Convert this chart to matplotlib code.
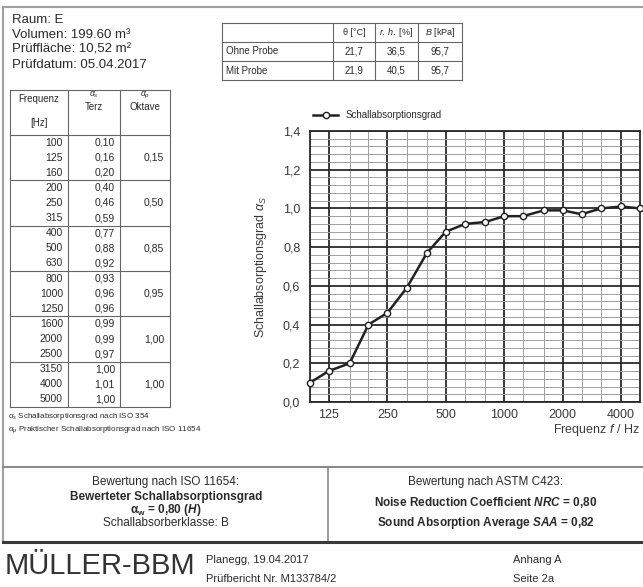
import matplotlib.pyplot as plt
from matplotlib.lines import Line2D
from matplotlib.ticker import FixedLocator, FuncFormatter

plt.rcParams['font.family'] = ['Liberation Sans', 'DejaVu Sans']
plt.rcParams['mathtext.fontset'] = 'custom'
plt.rcParams['mathtext.rm'] = 'Liberation Sans'
plt.rcParams['mathtext.it'] = 'Liberation Sans:italic'
plt.rcParams['mathtext.bf'] = 'Liberation Sans:bold'
plt.rcParams['mathtext.bfit'] = 'Liberation Sans:italic:bold'

# third-octave results (alpha_s) and practical octave values (alpha_p)
freqs = [100, 125, 160, 200, 250, 315, 400, 500, 630, 800, 1000, 1250,
         1600, 2000, 2500, 3150, 4000, 5000]
alpha_s = [0.10, 0.16, 0.20, 0.40, 0.46, 0.59, 0.77, 0.88, 0.92, 0.93, 0.96, 0.96,
           0.99, 0.99, 0.97, 1.00, 1.01, 1.00]
octaves = [125, 250, 500, 1000, 2000, 4000]
alpha_p = [0.15, 0.50, 0.85, 0.95, 1.00, 1.00]

climate_rows = ['Ohne Probe', 'Mit Probe']
climate_cols = ['θ [°C]', r'$\it{r.\,h.}$ [%]', r'$\it{B}$ [kPa]']
climate_vals = [[21.7, 36.5, 95.7], [21.9, 40.5, 95.7]]

info = ['Raum: E', 'Volumen: 199.60 m³', 'Prüffläche: 10,52 m²', 'Prüfdatum: 05.04.2017']

W, H = 643, 587
fig = plt.figure(figsize=(6.43, 5.87), dpi=100)
ink = '#2a2a2a'


def fx(x):
    return x / W


def fy(y):
    return 1 - y / H


def txt(x, y, s, **kw):
    kw.setdefault('color', ink)
    kw.setdefault('va', 'center')
    fig.text(fx(x), fy(y), s, **kw)


def line(x0, y0, x1, y1, lw=0.8, c='#666666'):
    fig.add_artist(Line2D([fx(x0), fx(x1)], [fy(y0), fy(y1)], lw=lw, color=c))


def comma(v, n=2):
    return f'{v:.{n}f}'.replace('.', ',')


# page frame
line(3, 7, 643, 7, lw=1.5, c='#a0a0a0')
line(3, 7, 3, 542, lw=1.5, c='#a0a0a0')

# header info
for i, s in enumerate(info):
    txt(12, 20 + i * 15, s, fontsize=9.5)

# climate table
cx = [222, 333, 375, 418, 462]
cy = [23, 42, 61, 80]
for y in cy:
    line(cx[0], y, cx[-1], y)
for x in cx:
    line(x, cy[0], x, cy[-1])
for j, s in enumerate(climate_cols):
    txt((cx[j + 1] + cx[j + 2]) / 2, (cy[0] + cy[1]) / 2, s, fontsize=6.5, ha='center')
for i, r in enumerate(climate_rows):
    yc = (cy[i + 1] + cy[i + 2]) / 2
    txt(cx[0] + 4, yc, r, fontsize=7)
    for j, v in enumerate(climate_vals[i]):
        txt((cx[j + 1] + cx[j + 2]) / 2, yc, comma(v, 1), fontsize=7, ha='center')

# result table
tx = [10, 68, 120, 170]
ttop, thead, tbot = 90, 135, 407
rh = (tbot - thead) / len(freqs)
for x in tx:
    line(x, ttop, x, tbot)
line(tx[0], ttop, tx[-1], ttop)
for k in range(0, len(freqs) + 1, 3):
    line(tx[0], thead + k * rh, tx[-1], thead + k * rh)
txt(39, 99, 'Frequenz', fontsize=7, ha='center')
txt(39, 123, '[Hz]', fontsize=7, ha='center')
txt(94, 95, r'$\alpha_s$', fontsize=6.3, ha='center')
txt(94, 107, 'Terz', fontsize=7, ha='center')
txt(145, 95, r'$\alpha_p$', fontsize=6.3, ha='center')
txt(145, 107, 'Oktave', fontsize=7, ha='center')
for i, (f, a) in enumerate(zip(freqs, alpha_s)):
    yc = thead + (i + 0.5) * rh
    txt(63, yc, str(f), fontsize=7.5, ha='right')
    txt(115, yc, comma(a), fontsize=7.5, ha='right')
for k, a in enumerate(alpha_p):
    txt(164, thead + (3 * k + 1.5) * rh, comma(a), fontsize=7.5, ha='right')
txt(8, 416, r'$\alpha_s$ Schallabsorptionsgrad nach ISO 354', fontsize=5.8)
txt(8, 430, r'$\alpha_p$ Praktischer Schallabsorptionsgrad nach ISO 11654', fontsize=5.8)

# chart
ax = fig.add_axes([fx(310), fy(402), (640 - 310) / W, (402 - 131) / H])
ax.set_xscale('log')
ax.set_xlim(100, 5000)
ax.set_ylim(0, 1.4)
ax.xaxis.set_major_locator(FixedLocator(octaves))
ax.xaxis.set_minor_locator(FixedLocator([f for f in freqs if f not in octaves]))
ax.xaxis.set_major_formatter(FuncFormatter(lambda v, p: f'{v:.0f}'))
ax.xaxis.set_minor_formatter(FuncFormatter(lambda v, p: ''))
ax.yaxis.set_major_locator(FixedLocator([0, 0.2, 0.4, 0.6, 0.8, 1.0, 1.2, 1.4]))
ax.yaxis.set_minor_locator(FixedLocator([i * 0.04 for i in range(36)]))
ax.yaxis.set_major_formatter(FuncFormatter(lambda v, p: comma(v, 1)))
ax.grid(which='major', color='#2a2a2a', lw=1.3)
ax.grid(which='minor', color='#a0a0a0', lw=0.7)
ax.set_axisbelow(True)
ax.tick_params(which='both', length=0, labelsize=9, labelcolor='#3a3a3a')
ax.tick_params(axis='x', pad=5)
ax.tick_params(axis='y', pad=7)
for sp in ax.spines.values():
    sp.set_color('#2a2a2a')
    sp.set_linewidth(1.3)
ax.plot(freqs, alpha_s, color='#222222', lw=1.8, marker='o', ms=4.5,
        mfc='white', mec='#222222', mew=1, clip_on=False, zorder=5,
        label='Schallabsorptionsgrad')
ax.set_ylabel(r'Schallabsorptionsgrad $\alpha_S$', fontsize=9, color='#3a3a3a')
ax.yaxis.set_label_coords(-0.125, 0.5)
ax.legend(loc='center left', bbox_to_anchor=(fx(313), fy(115)),
          bbox_transform=fig.transFigure, frameon=False, fontsize=7,
          handlelength=2.6, borderaxespad=0, borderpad=0, labelcolor=ink)
txt(640, 430, r'Frequenz $f$ / Hz', fontsize=9, ha='right', color='#3a3a3a')

# rating box
line(3, 467, 643, 467, lw=1.5, c='#8a8a8a')
line(328, 467, 328, 542, lw=1.2, c='#8a8a8a')
line(3, 542, 643, 542, lw=2.2, c='#3a3a3a')
txt(166, 482, 'Bewertung nach ISO 11654:', fontsize=8.5, ha='center')
txt(166, 497, 'Bewerteter Schallabsorptionsgrad', fontsize=8.5, ha='center', fontweight='bold')
txt(166, 510, r'$\mathbf{\alpha}_\mathbf{w}$ = 0,80 ($\mathbfit{H}$)', fontsize=8.5, ha='center', fontweight='bold')
txt(166, 523, 'Schallabsorberklasse: B', fontsize=8.5, ha='center')
txt(486, 482, 'Bewertung nach ASTM C423:', fontsize=8.5, ha='center')
txt(486, 502, r'Noise Reduction Coefficient $\mathbfit{NRC}$ = 0,80', fontsize=8.5, ha='center', fontweight='bold')
txt(486, 523, r'Sound Absorption Average $\mathbfit{SAA}$ = 0,82', fontsize=8.5, ha='center', fontweight='bold')

# footer
txt(5, 566, 'MÜLLER-BBM', fontsize=21, color='#333333')
txt(206, 560, 'Planegg, 19.04.2017', fontsize=8)
txt(206, 579, 'Prüfbericht Nr. M133784/2', fontsize=8)
txt(513, 560, 'Anhang A', fontsize=8)
txt(513, 579, 'Seite 2a', fontsize=8)

fig.savefig('out.png', dpi=100, facecolor='white')
